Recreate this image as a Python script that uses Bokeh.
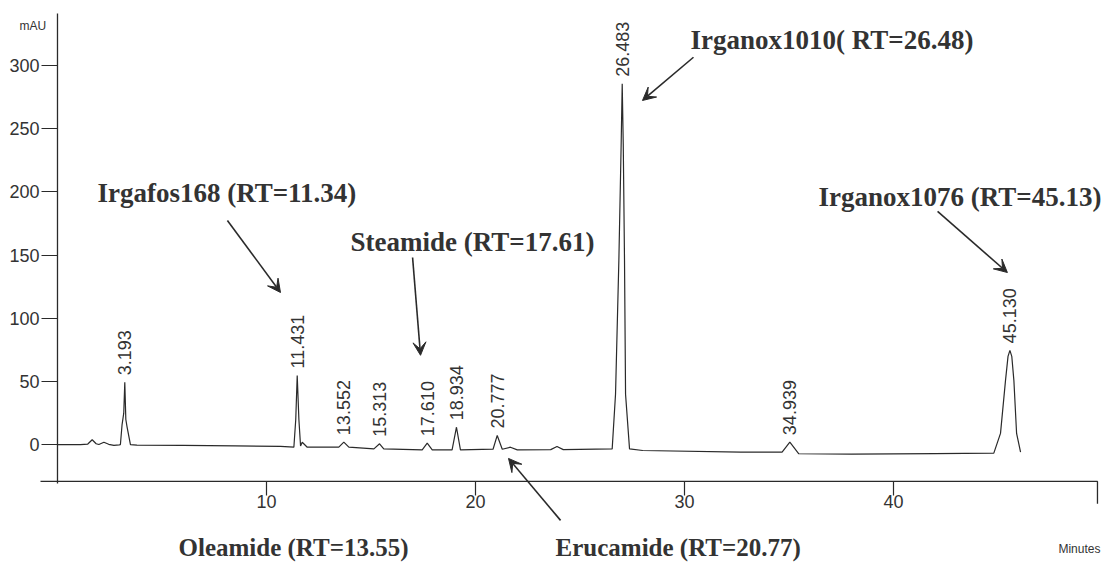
import math
from bokeh.plotting import figure
from bokeh.models import FixedTicker, Label, Arrow, VeeHead, ColumnDataSource
from bokeh.embed import file_html
from bokeh.resources import INLINE
from bokeh.core.properties import value

# ---------------- data ----------------
# detector trace (retention time in minutes, absorbance in mAU)
trace_min = [0.00, 1.10, 1.45, 1.66, 1.85, 1.98, 2.22, 2.45, 2.70, 2.95,
             3.01, 3.09, 3.17, 3.22, 3.27, 3.33, 3.49, 3.80, 6.00, 8.50,
             10.67, 11.31, 11.40, 11.47, 11.55, 11.63, 11.71, 11.95, 13.46, 13.70,
             13.94, 15.14, 15.41, 15.61, 17.45, 17.69, 17.93, 18.88, 19.09, 19.28,
             20.84, 21.04, 21.28, 21.67, 22.00, 23.60, 23.90, 24.20, 26.54, 26.70,
             26.86, 26.97, 27.02, 27.07, 27.13, 27.18, 27.37, 28.00, 32.70, 34.67,
             35.04, 35.47, 38.00, 42.00, 44.80, 45.12, 45.36, 45.48, 45.57, 45.66,
             45.76, 45.89, 46.08]
trace_mau = [0.2, 0.2, 0.6, 4.0, 0.8, 0.2, 2.0, 0.4, -0.5, 0.0,
             0.2, 16.0, 25.0, 49.5, 20.0, 14.0, 0.2, -0.3, -0.4, -0.8,
             -1.3, -1.9, 20.0, 54.8, 20.0, -1.0, 2.0, -1.9, -1.9, 2.1,
             -1.9, -3.2, 0.8, -3.2, -4.0, 1.3, -4.0, -4.0, 13.9, -4.0,
             -3.5, 7.4, -3.5, -1.9, -4.0, -3.8, -1.3, -3.8, -3.2, 40.0,
             146.0, 238.0, 285.6, 238.0, 146.0, 40.0, -3.2, -4.5, -5.8, -5.8,
             2.1, -7.1, -7.3, -7.0, -6.6, 9.0, 51.0, 70.0, 74.7, 70.0,
             51.0, 9.0, -5.8]

# integrator peak labels and apex positions
peak_labels = ["3.193", "11.431", "13.552", "15.313", "17.610",
               "18.934", "20.777", "26.483", "34.939", "45.130"]
peak_min = [3.22, 11.47, 13.70, 15.41, 17.69, 19.09, 21.04, 27.02, 35.04, 45.57]
peak_mau = [49.5, 54.8, 2.1, 0.8, 1.3, 13.9, 7.4, 285.6, 2.1, 74.7]

y_ticks = [0, 50, 100, 150, 200, 250, 300]
x_ticks = [10, 20, 30, 40]

compound_names = ["Irganox1010( RT=26.48)", "Irgafos168 (RT=11.34)",
                  "Steamide (RT=17.61)", "Irganox1076 (RT=45.13)",
                  "Oleamide (RT=13.55)", "Erucamide (RT=20.77)"]

# ---------------- layout (not data) ----------------
# (x, y of text centre line, weight, size)
name_pos = [(30.29, 319.9, "bold", "27px"), (1.91, 199.6, "bold", "27px"),
            (14.02, 160.8, "bold", "27px"), (36.41, 196.0, "bold", "27px"),
            (5.79, -81.2, "bold", "25px"), (23.83, -81.2, "bold", "25px")]
arrow_pos = [(30.43, 306.6, 27.99, 272.4), (8.13, 177.5, 10.67, 120.5),
             (16.99, 148.2, 17.37, 70.8), (42.11, 184.6, 45.45, 136.3),
             (24.07, -59.8, 21.58, -10.8)]
Y_AXIS_SPAN = (-30.6, 341.2)
X_AXIS_SPAN = (-0.813, 49.76)
X_AXIS_AT = -29.0
END_TICK = -46.7

INK = "#2a2a2a"

p = figure(width=1105, height=564, x_range=(-2.727, 50.144), y_range=(-94.7, 351.5),
           output_backend="svg", toolbar_location=None,
           min_border_left=0, min_border_right=0, min_border_top=0, min_border_bottom=0)
p.xgrid.visible = False
p.ygrid.visible = False
p.outline_line_color = None
p.background_fill_color = "white"
p.border_fill_color = "white"

# axes: ticks and labels from Bokeh axes drawn at fixed positions
p.yaxis.fixed_location = 0
p.xaxis.fixed_location = X_AXIS_AT
for ax in (p.xaxis, p.yaxis):
    ax.axis_line_color = None
    ax.major_tick_line_color = INK
    ax.major_tick_line_width = 1.2
    ax.minor_tick_line_color = None
    ax.major_tick_in = 0
    ax.major_label_text_font = "Liberation Sans"
    ax.major_label_text_font_size = "18px"
    ax.major_label_text_color = "#333333"
p.yaxis.ticker = FixedTicker(ticks=y_ticks)
p.yaxis.major_tick_out = 16
p.yaxis.major_label_standoff = 2
p.xaxis.ticker = FixedTicker(ticks=x_ticks)
p.xaxis.major_tick_out = 14
p.xaxis.major_label_standoff = 0

# axis lines (extend past each other like the instrument printout)
p.line([0, 0], list(Y_AXIS_SPAN), line_color=INK, line_width=1.3)
p.line([X_AXIS_SPAN[0], X_AXIS_SPAN[1], X_AXIS_SPAN[1]],
       [X_AXIS_AT, X_AXIS_AT, END_TICK], line_color=INK, line_width=1.3)

# trace
p.line(trace_min, trace_mau, line_color=INK, line_width=1.2)

# peak retention time labels
src = ColumnDataSource(dict(x=peak_min, y=peak_mau, t=peak_labels))
p.text(x="x", y="y", text="t", source=src, angle=math.pi / 2,
       text_align="left", text_baseline="middle", y_offset=-7,
       text_font=value("Liberation Sans"), text_font_size="18px", text_color="#333333")

# compound names
for name, (nx, ny, style, size) in zip(compound_names, name_pos):
    p.add_layout(Label(x=nx, y=ny, text=name, text_font="Liberation Serif",
                       text_font_size=size, text_font_style=style,
                       text_color="#333333", text_align="left",
                       text_baseline="middle"))

# arrows
for (x0, y0, x1, y1) in arrow_pos:
    p.add_layout(Arrow(x_start=x0, y_start=y0, x_end=x1, y_end=y1,
                       line_color=INK, line_width=1.6,
                       end=VeeHead(size=13, fill_color=INK, line_color=INK)))

# unit labels
p.add_layout(Label(x=-1.82, y=331.3, text="mAU", text_font="Liberation Sans",
                   text_font_size="12px", text_color="#333333",
                   text_align="left", text_baseline="middle"))
p.add_layout(Label(x=49.9, y=-82.2, text="Minutes", text_font="Liberation Sans",
                   text_font_size="12px", text_color="#333333",
                   text_align="right", text_baseline="middle"))

open("out.html", "w").write(file_html(p, INLINE))
